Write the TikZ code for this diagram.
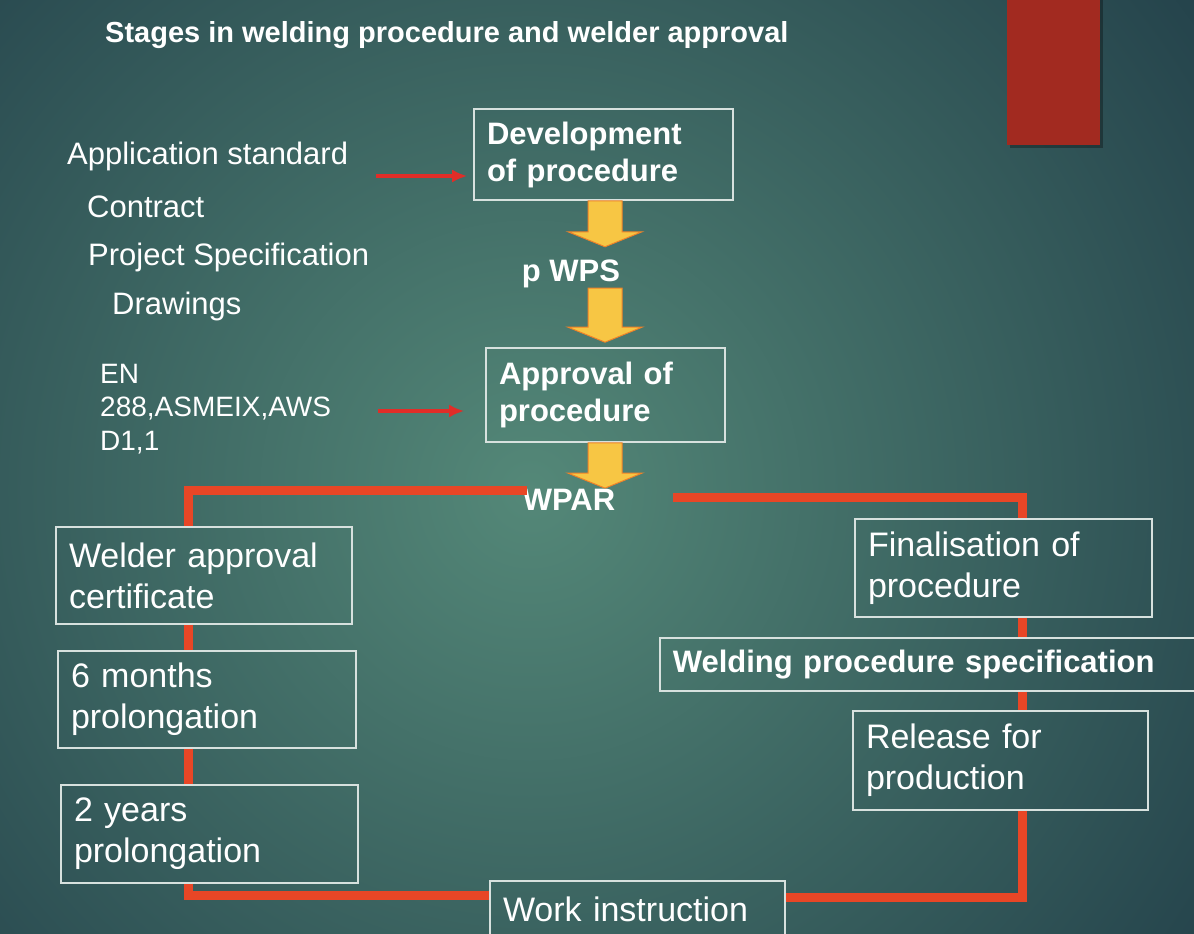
\documentclass[tikz,border=0pt]{standalone}
\usepackage{fontspec}
\setmainfont{Liberation Sans}
\usetikzlibrary{positioning,calc,arrows.meta}

\definecolor{bginner}{RGB}{84,136,120}
\definecolor{bgouter}{RGB}{22,46,62}
\definecolor{cornerred}{RGB}{162,42,32}
\definecolor{linkred}{RGB}{232,70,38}
\definecolor{inputred}{RGB}{225,45,40}
\definecolor{boxline}{RGB}{215,225,222}
\definecolor{arrowfill}{RGB}{247,198,68}
\definecolor{arrowedge}{RGB}{240,130,40}

\tikzset{
  stagebox/.style={draw=boxline,line width=1.6pt,align=left,inner xsep=13pt},
  blockarrow/.style={fill=arrowfill,draw=arrowedge,line width=1pt,line join=miter},
  link/.style={draw=linkred,line width=9pt},
  inputarrow/.style={draw=inputred,line width=4pt,-{Latex[length=15pt,width=13pt]}},
}

\begin{document}
\begin{tikzpicture}[x=1pt,y=1pt]
  \path[use as bounding box,clip] (0,0) rectangle (1194,-934);
  \shade[inner color=bginner,outer color=bgouter] (530,-490) circle (1080);
  \fill[black,opacity=0.3] (1010,0) rectangle (1103,-148);
  \fill[cornerred] (1007,0) rectangle (1100,-145);
  \coordinate(leftrail) at (188,0);
  \coordinate(rightrail) at (1022,0);
  \coordinate(spine) at (605,0);
  \node[anchor=west,inner sep=0,text=white,font=\fontsize{29}{35}\selectfont\bfseries]
    (title) at (105,-35) {Stages in welding procedure and welder approval};
  % inputs
  \begin{scope}[
    every node/.style={anchor=west,inner sep=0,text=white,font=\fontsize{31}{37}\selectfont},
    ]
    \node (app)      at (67,-156)  {Application standard};
    \node (contract) at (87,-207)  {Contract};
    \node (projspec) at (88,-257)  {Project Specification};
    \node (drawings) at (112,-306) {Drawings};
    \node[align=left,font=\fontsize{28}{33.5}\selectfont] (codes) at (100,-409) {EN\\288,ASMEIX,AWS\\D1,1};
  \end{scope}
  % procedure
  \begin{scope}[
    every node/.style={text=white,font=\fontsize{31}{37}\selectfont\bfseries},
    ]
    \node[stagebox,text width=233pt,minimum height=91pt] (dev) at (603.5,-154.5) {Development\\of procedure};
    \node[inner sep=0] (pwps) at (571,-274) {p WPS};
    \node[stagebox,text width=213pt,minimum height=94pt] (appr) at (605.5,-395) {Approval of\\procedure};
    \node[inner sep=0] (wpar) at (569,-500) {WPAR};
    \node[stagebox,anchor=west,text width=534pt,minimum height=53pt] (wps) at (659,-664.5) {Welding procedure specification};
  \end{scope}
  \begin{scope}[
    every node/.style={stagebox,text=white,font=\fontsize{34}{41}\selectfont},
    ]
    \path (204,-575.5) node[text width=270pt,minimum height=97pt] (welder) {Welder approval\\certificate}
    ++(3,-124) node[text width=272pt,minimum height=97pt] (six) {6 months\\prolongation}
    ++(2.5,-134.5) node[text width=271pt,minimum height=98pt] (two) {2 years\\prolongation};
    \path (1003.5,-568) node[text width=271pt,minimum height=98pt] (final) {Finalisation of\\procedure}
    ++(-3,-192.5) node[text width=269pt,minimum height=99pt] (release) {Release for\\production};
    \node[text width=269pt,minimum height=56pt] (work) at (637.5,-909) {Work instruction};
  \end{scope}
  \foreach \a/\b/\g in {dev/pwps/13,pwps/appr/5,appr/wpar/1}
    \path[blockarrow] let \p1=(\a.south -| spine), \p2=($(\b.north -| spine)+(0,\g)$) in
      (\x1-17pt,\y1) -- (\x1-17pt,\y2+15pt) -- (\x1-37pt,\y2+15pt) -- (\x1,\y2)
      -- (\x1+37pt,\y2+15pt) -- (\x1+17pt,\y2+15pt) -- (\x1+17pt,\y1) -- cycle;
  \draw[inputarrow] ($(app.east)+(28,-20)$) -- ($(dev.west)+(-6,-21.5)$);
  \draw[inputarrow] ($(codes.east)+(47,-2)$) -- ($(appr.west)+(-21,-16)$);
  \path[link]
    ($(wpar.west)+(4,10)$) -| (welder.north -| leftrail)
    (welder.south -| leftrail) -- (six.north -| leftrail)
    (six.south -| leftrail) -- (two.north -| leftrail)
    (two.south -| leftrail) |- ($(work.west)+(0,14)$)
    ($(wpar.east)+(58,3)$) -| (final.north -| rightrail)
    (final.south -| rightrail) -- (wps.north -| rightrail)
    (wps.south -| rightrail) -- (release.north -| rightrail)
    (release.south -| rightrail) |- ($(work.east)+(0,12)$);
\end{tikzpicture}
\end{document}
